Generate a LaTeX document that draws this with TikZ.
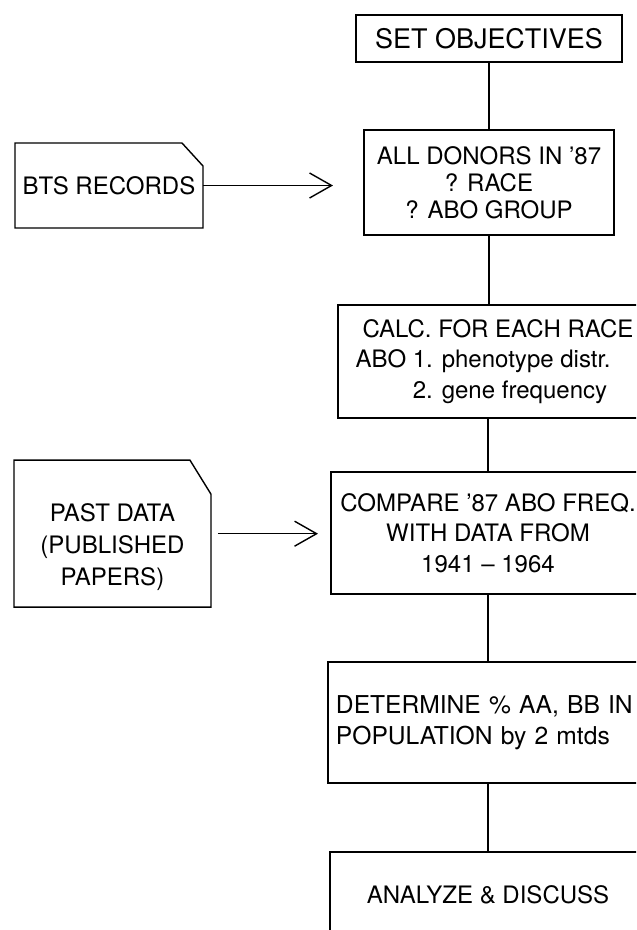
\documentclass[tikz,border=0pt]{standalone}
\usepackage{fontspec}
\setmainfont{TeX Gyre Heros}
\usetikzlibrary{shapes,arrows.meta,calc,positioning}

\begin{document}
\begin{tikzpicture}[x=0.03cm, y=-0.03cm,
  procbox/.style={draw=black, line width=1.2pt, inner sep=0pt, outer sep=0pt, align=center, font=\fontsize{20.5}{26}\selectfont},
  docbox/.style={inner sep=0pt, outer sep=0pt, align=center, font=\fontsize{20.5}{27}\selectfont},
  link/.style={line width=1.2pt},
  feed/.style={line width=1.2pt, -{Straight Barb[length=6.6mm, width=7.5mm, line width=1.2pt]}}]

  \fill[white] (0,0) rectangle (636,930);
  \useasboundingbox (0,0) rectangle (636,930);
  \clip (0,0) rectangle (636,930);

   % main column
  \node[procbox, minimum width=7.98cm, minimum height=1.41cm, font=\fontsize{23}{26}\selectfont] (obj) at (489,38.5) {SET OBJECTIVES};
  \node[procbox, minimum width=7.5cm, minimum height=3.15cm, below=2.04cm of obj, font=\fontsize{20.5}{23}\selectfont] (donors) {ALL DONORS IN '87\\? RACE\\? ABO GROUP};
  \node[procbox, minimum width=9.6cm, minimum height=3.39cm, below=2.1cm of donors, xshift=0.27cm] (calc) {\begin{tabular}{@{}r@{ }l@{}}\multicolumn{2}{c}{CALC. FOR EACH RACE}\\ABO & 1. phenotype distr.\\ & 2. gene frequency\end{tabular}};
  \node[procbox, minimum width=9.42cm, minimum height=3.66cm, below=1.62cm of calc, xshift=-0.3cm] (compare) {COMPARE '87 ABO FREQ.\\WITH DATA FROM\\1941 -- 1964};
  \node[procbox, minimum height=3.63cm, inner xsep=0.24cm, text width=9.12cm, align=left, below=2.04cm of compare, font=\fontsize{21}{27}\selectfont] (determine) {DETERMINE \% AA, BB IN\\POPULATION by 2 mtds};
  \node[procbox, minimum width=9.48cm, minimum height=2.58cm, below=2.07cm of determine] (analyze) {ANALYZE \& DISCUSS};

  \draw[link] (obj) -- (donors);
  \draw[link] (donors) -- (donors |- calc.north);
  \draw[link] (compare |- calc.south) -- (compare);
  \draw[link] (compare) -- (determine);
  \draw[link] (determine) -- (analyze);

  % inputs
  \node[docbox, minimum width=5.64cm, minimum height=2.55cm, left=4.83cm of donors, yshift=-0.09cm] (bts) {BTS RECORDS};
  \node[docbox, minimum width=5.91cm, minimum height=4.41cm, left=3.6cm of compare, yshift=-0.02cm] (past) {\\[11pt]PAST DATA\\(PUBLISHED\\PAPERS)};

  \draw[link] (bts.south west) -- (bts.north west) -- ($(bts.north east)+(-21,0)$) -- ($(bts.north east)+(0,23)$) -- (bts.south east) -- cycle;
  \draw[link] (past.south west) -- (past.north west) -- ($(past.north east)+(-21,0)$) -- ($(past.north east)+(0,34)$) -- (past.south east) -- cycle;

  \draw[feed, shorten >=0.93cm] (bts.east) -- (bts.east -| donors.west);
  \draw[feed, shorten <=0.21cm, shorten >=0.39cm] (past.east) -- (past.east -| compare.west);

\end{tikzpicture}
\end{document}
